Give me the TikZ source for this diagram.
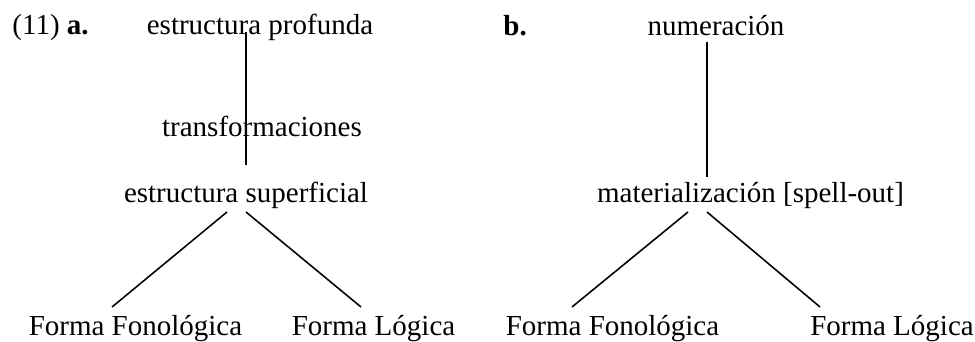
\documentclass[tikz,border=0pt]{standalone}
\usepackage{fontspec}
\setmainfont{Liberation Serif}
\usetikzlibrary{calc}
\begin{document}
\begin{tikzpicture}[x=0.4138pt,y=-0.4138pt]
        \tikzstyle{term}=[inner sep=0pt,anchor=base,font=\fontsize{12}{14}\selectfont]
        \tikzstyle{branch}=[draw,line width=0.65pt]
        \useasboundingbox (0,0) rectangle (975,342);
       \begin{scope}
         \node [term,anchor=base west] (numa) at (12,35) {(11) \textbf{a.}};
         \node [term] (prof) at (260,35) {estructura profunda};
         \node [term] (trans) at (262,137) {transformaciones};
         \node [term] (sup) at (246,203) {estructura superficial};
         \node [term] (ffa) at (135.5,336) {Forma Fonológica};
         \node [term] (fla) at (373.5,336) {Forma Lógica};
         \path[branch] ($(prof.base)+(-14,-3)$) edge ($(sup.base)+(0,-38)$);
         \path[branch] ($(sup.base)+(-19,9)$) edge ($(ffa.base)+(-23.5,-29)$);
         \path[branch] ($(sup.base)+(0,9)$) edge ($(fla.base)+(-12.5,-29)$);
        \end{scope}
       \begin{scope}
         \node [term,anchor=base west] (numb) at (503,36) {\textbf{b.}};
         \node [term] (num) at (716,36) {numeración};
         \node [term] (mat) at (750.5,203) {materialización [spell-out]};
         \node [term] (ffb) at (612.5,336) {Forma Fonológica};
         \node [term] (flb) at (892,336) {Forma Lógica};
         \path[branch] ($(num.base)+(-9,6)$) edge ($(mat.base)+(-43.5,-26)$);
         \path[branch] ($(mat.base)+(-62.5,9)$) edge ($(ffb.base)+(-40.5,-29)$);
         \path[branch] ($(mat.base)+(-43.5,9)$) edge ($(flb.base)+(-72,-29)$);
        \end{scope}
      \end{tikzpicture}
\end{document}
